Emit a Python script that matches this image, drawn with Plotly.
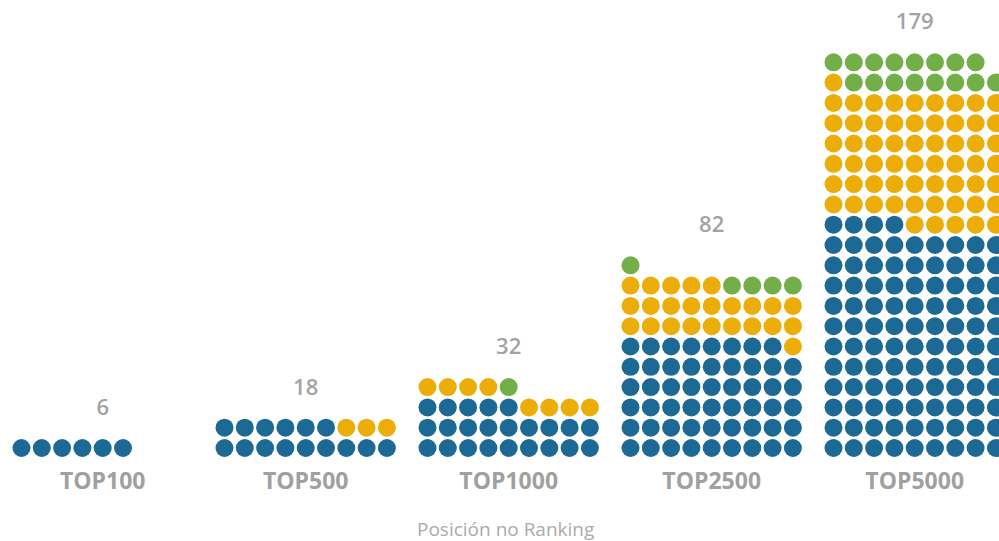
import plotly.graph_objects as go

categories = ["TOP100", "TOP500", "TOP1000", "TOP2500", "TOP5000"]
blue_values = [6, 15, 23, 53, 103]
yellow_values = [0, 3, 8, 24, 60]
green_values = [0, 0, 1, 5, 16]

series = [
    ("Azul", blue_values, "#1D6996"),
    ("Amarelo", yellow_values, "#EDAD08"),
    ("Verde", green_values, "#73AF48"),
]

COLS = 9
GROUP_STEP = 10

fig = go.Figure()

# build dot positions: fill bottom row left-to-right, series stacked in order
pts = {name: ([], []) for name, _, _ in series}
totals = []
for gi, cat in enumerate(categories):
    k = 0
    for name, vals, color in series:
        for _ in range(vals[gi]):
            pts[name][0].append(gi * GROUP_STEP + k % COLS)
            pts[name][1].append(k // COLS)
            k += 1
    totals.append(k)

for name, vals, color in series:
    xs, ys = pts[name]
    fig.add_trace(go.Scatter(
        x=xs, y=ys, mode="markers", name=name,
        marker=dict(size=18, color=color, line=dict(width=0)),
        hoverinfo="skip", showlegend=False,
    ))

center_x = [gi * GROUP_STEP + (COLS - 1) / 2 for gi in range(len(categories))]
total_y = [(t - 1) // COLS + 1.9 for t in totals]

fig.add_trace(go.Scatter(
    x=center_x, y=total_y, mode="text",
    text=[str(t) for t in totals],
    textfont=dict(family="Open Sans", size=22, color="#a3a3a3", weight=600),
    hoverinfo="skip", showlegend=False,
))

fig.add_trace(go.Scatter(
    x=center_x, y=[-1.72] * len(categories), mode="text",
    text=categories,
    textfont=dict(family="Open Sans", size=23, color="#a0a0a0", weight="bold"),
    hoverinfo="skip", showlegend=False,
))

fig.add_annotation(
    x=23.84, y=-3.98, xref="x", yref="y",
    text="Posición no Ranking", showarrow=False,
    font=dict(family="Open Sans", size=19, color="#ababab"),
)

unit = 20.3
x0_px = 21.5
y0_px = 448
W, H = 999, 541
fig.update_layout(
    width=W, height=H,
    margin=dict(l=0, r=0, t=0, b=0),
    paper_bgcolor="white", plot_bgcolor="white",
    hovermode=False,
    xaxis=dict(range=[-x0_px / unit, (W - x0_px) / unit], visible=False, fixedrange=True),
    yaxis=dict(range=[(y0_px - H) / unit, y0_px / unit], visible=False, fixedrange=True),
)

fig.write_html(
    "out.html",
    config={"displayModeBar": False},
    post_script="document.body.style.margin='0';document.body.style.overflow='hidden';",
)
